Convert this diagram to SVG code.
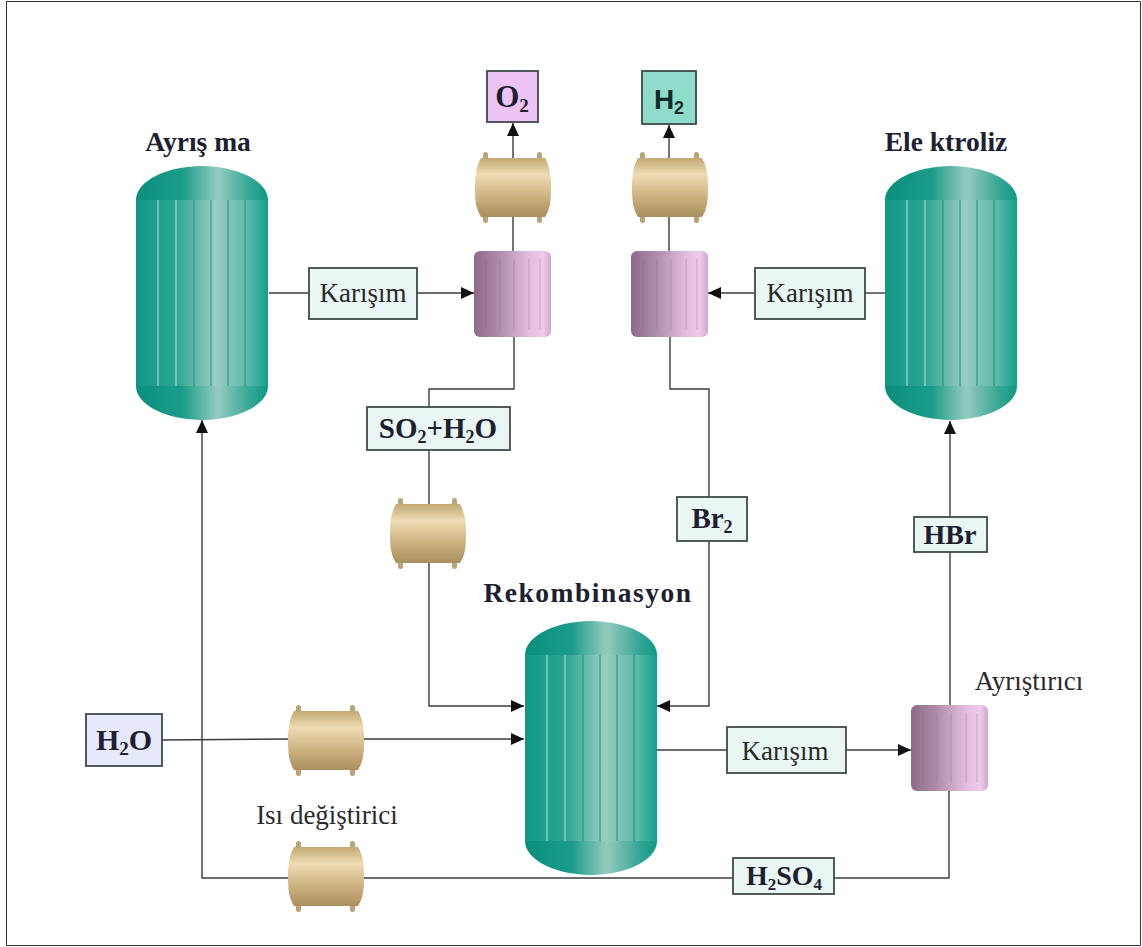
<svg xmlns="http://www.w3.org/2000/svg" width="1142" height="947" viewBox="0 0 1142 947">
<style>
.c{fill:none;stroke:#3c3c3c;stroke-width:1.4}
.a{fill:none;stroke:#3c3c3c;stroke-width:1.4;marker-end:url(#ah)}
.b{stroke:#3f4a4a;stroke-width:1.8}
.mix{fill:#e9f6f4}
.t{font-family:"Liberation Serif",serif;font-size:27px;fill:#2a2a2a;text-anchor:middle}
.tb{font-family:"Liberation Serif",serif;font-size:27.500px;font-weight:bold;fill:#1c2030;text-anchor:middle}
.il{stroke:#0d8a78;stroke-width:1.2;opacity:.7}
.il2{stroke:#c4ece4;stroke-width:1.2;opacity:.75}
.ml{stroke:#7d5a78;stroke-width:1;opacity:.3}
</style>
<defs>
<marker id="ah" markerWidth="14" markerHeight="12" refX="13" refY="6" orient="auto" markerUnits="userSpaceOnUse"><path d="M0 0L13 6L0 12Z" fill="#111"/></marker>
<linearGradient id="gt"><stop offset="0" stop-color="#0f9a86"/><stop offset=".3" stop-color="#2ba492"/><stop offset=".6" stop-color="#98cdc2"/><stop offset=".85" stop-color="#5cb8a9"/><stop offset="1" stop-color="#12a08c"/></linearGradient>
<linearGradient id="gd"><stop offset="0" stop-color="#0a8f7c"/><stop offset=".35" stop-color="#1a9c89"/><stop offset=".62" stop-color="#95cbc0"/><stop offset=".85" stop-color="#3aa897"/><stop offset="1" stop-color="#0e9884"/></linearGradient>
<linearGradient id="gm"><stop offset="0" stop-color="#8f6a89"/><stop offset=".3" stop-color="#a98aa6"/><stop offset=".7" stop-color="#dfbcdb"/><stop offset=".9" stop-color="#eccae8"/><stop offset="1" stop-color="#cfa9cb"/></linearGradient>
<linearGradient id="gh" x1="0" y1="0" x2="0" y2="1"><stop offset="0" stop-color="#c2a873"/><stop offset=".28" stop-color="#eedcb4"/><stop offset=".7" stop-color="#c9ae7b"/><stop offset="1" stop-color="#a98f5f"/></linearGradient>
<g id="tank">
<path d="M0 34C0 14 33 0 66 0S132 14 132 34V220C132 240 99 254 66 254S0 240 0 220Z" fill="url(#gd)"/>
<rect x="0" y="34" width="132" height="186" fill="url(#gt)"/>
<path class="il" d="M58 34V220M75 34V220M92 34V220M109 34V220"/>
<path class="il2" d="M22 34V220M40 34V220"/>
</g>
<g id="mixer">
<rect width="77" height="86" rx="6" fill="url(#gm)"/>
<path class="ml" d="M12 8V78M26 8V78M40 8V78M55 8V78M66 8V78"/>
</g>
<g id="hx">
<rect x="8" y="-1" width="5" height="71" rx="2.500" fill="#b8a477"/><rect x="62" y="-1" width="5" height="71" rx="2.500" fill="#b8a477"/>
<path d="M6 5H70C75 14 76 22 76 35S75 56 70 64H6C1 56 0 48 0 35S1 14 6 5Z" fill="url(#gh)"/>
</g>
</defs>
<rect width="1142" height="947" fill="#fff"/>
<path d="M6.500 1.500H1140.500V945.500H6.500Z" fill="none" stroke="#333" stroke-width="1"/>
<g id="connectors">
<path class="c" d="M269 293H310"/>
<path class="a" d="M417 293H474"/>
<path class="a" d="M513 158V123"/>
<path class="c" d="M513 251V215"/>
<path class="a" d="M669 158V125"/>
<path class="c" d="M669 251V215"/>
<path class="a" d="M755 293H708"/>
<path class="c" d="M865 293H885"/>
<path class="c" d="M514 337V389H429V409"/>
<path class="c" d="M429 450V505"/>
<path class="a" d="M429 562V706H524"/>
<path class="c" d="M670 337V389H709V497"/>
<path class="a" d="M709 541V706H657"/>
<path class="c" d="M162 740L290 739"/>
<path class="a" d="M362 739H524"/>
<path class="c" d="M657 750H727"/>
<path class="a" d="M846 750H911"/>
<path class="a" d="M950 705V421"/>
<path class="c" d="M949 791V878H834"/>
<path class="c" d="M733 878H362"/>
<path class="a" d="M290 878H202V420"/>
</g>
<g id="node-ayrisma"><use href="#tank" x="136" y="166"/><text class="tb" x="198" y="151">Ayrış ma</text></g>
<g id="node-elektroliz"><use href="#tank" x="885" y="166"/><text class="tb" x="946" y="151">Ele ktroliz</text></g>
<g id="node-rekombinasyon"><use href="#tank" x="525" y="621"/><text class="tb" x="588" y="602" letter-spacing="1.500">Rekombinasyon</text></g>
<g id="node-o2"><rect class="b" x="487" y="71" width="51" height="51" fill="#eec4f4"/><text class="tb" x="512" y="107" style="font-size:31px">O<tspan font-size="19" dy="5">2</tspan></text></g>
<g id="node-h2"><rect class="b" x="642" y="71" width="54" height="53" fill="#8fdccb"/><text x="669" y="109" text-anchor="middle" font-family="Liberation Sans, sans-serif" font-weight="bold" font-size="28" fill="#0f2a2a">H<tspan font-size="18" dy="5">2</tspan></text></g>
<g id="hx-o2"><use href="#hx" x="475" y="153"/></g>
<g id="hx-h2"><use href="#hx" x="632" y="153"/></g>
<g id="hx-so2"><use href="#hx" x="390" y="499"/></g>
<g id="hx-h2o"><use href="#hx" x="288" y="706"/></g>
<g id="hx-h2so4"><use href="#hx" x="288" y="842"/></g>
<g id="mixer-o2"><use href="#mixer" x="474" y="251"/></g>
<g id="mixer-h2"><use href="#mixer" x="631" y="251"/></g>
<g id="mixer-ayristirici"><use href="#mixer" x="911" y="705"/><text class="t" x="1029" y="690">Ayrıştırıcı</text></g>
<g id="label-karisim-1"><rect class="b mix" x="309" y="268" width="108" height="51"/><text class="t" x="363" y="302">Karışım</text></g>
<g id="label-karisim-2"><rect class="b mix" x="755" y="268" width="110" height="51"/><text class="t" x="810" y="302">Karışım</text></g>
<g id="label-karisim-3"><rect class="b mix" x="727" y="727" width="119" height="46"/><text class="t" x="785" y="760">Karışım</text></g>
<g id="label-so2"><rect class="b mix" x="367" y="407" width="143" height="43"/><text class="tb" x="438" y="438" style="font-size:29px">SO<tspan font-size="18" dy="5">2</tspan><tspan dy="-5">+H</tspan><tspan font-size="18" dy="5">2</tspan><tspan dy="-5">O</tspan></text></g>
<g id="label-br2"><rect class="b mix" x="677" y="497" width="70" height="44"/><text class="tb" x="712" y="528" style="font-size:29px">Br<tspan font-size="18" dy="5">2</tspan></text></g>
<g id="label-hbr"><rect class="b mix" x="914" y="517" width="73" height="35"/><text class="tb" x="950" y="544" style="font-size:28px">HBr</text></g>
<g id="label-h2o"><rect class="b" x="86" y="714" width="76" height="52" fill="#e6e9fb"/><text class="tb" x="124" y="750" style="font-size:30px">H<tspan font-size="19" dy="5">2</tspan><tspan dy="-5">O</tspan></text></g>
<g id="label-h2so4"><rect class="b mix" x="733" y="858" width="101" height="36"/><text class="tb" x="784" y="885" style="font-size:28px">H<tspan font-size="17" dy="5">2</tspan><tspan dy="-5">SO</tspan><tspan font-size="17" dy="5">4</tspan></text></g>
<text class="t" x="327" y="824">Isı değiştirici</text>
</svg>
